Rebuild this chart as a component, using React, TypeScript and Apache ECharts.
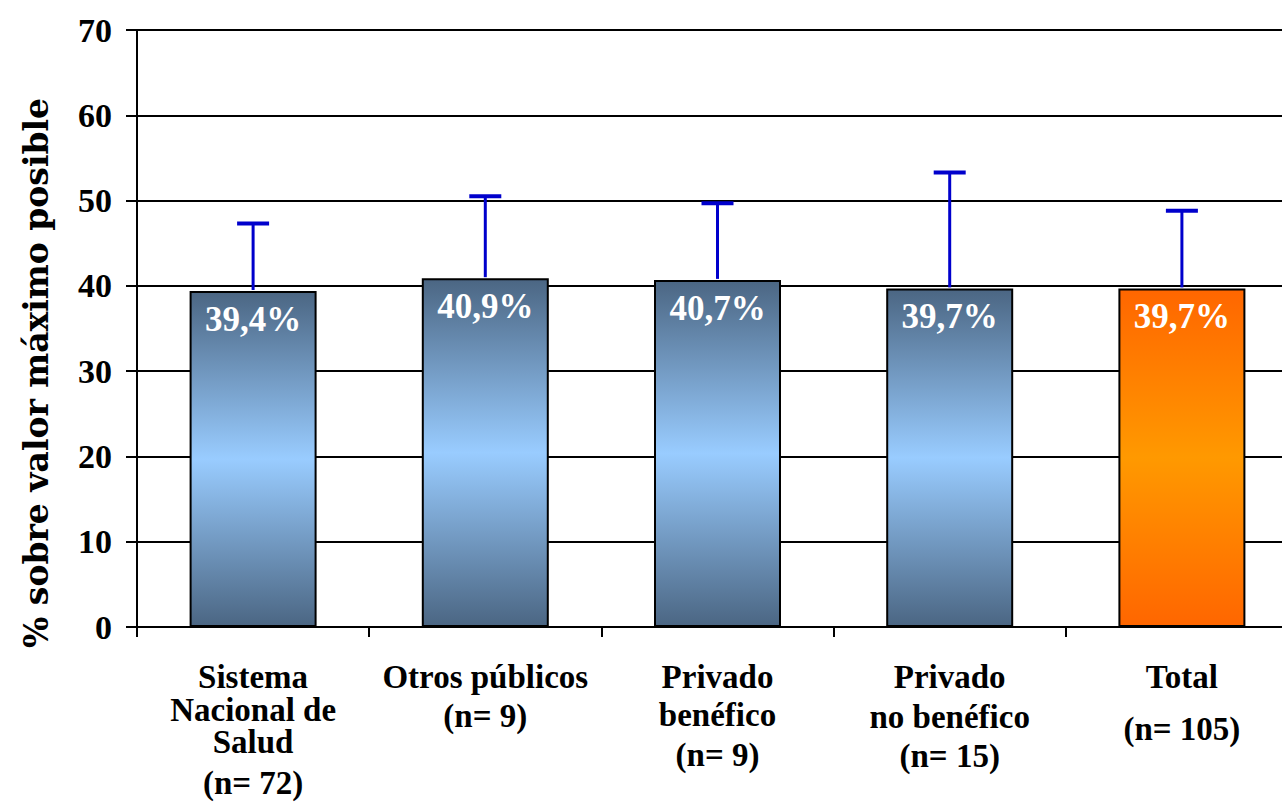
import React, { useEffect, useRef } from "react";
import * as echarts from "echarts";

const categories = ["Sistema\nNacional de\nSalud", "Otros públicos", "Privado\nbenéfico", "Privado\nno benéfico", "Total"];
const nValues = [72, 9, 9, 15, 105];
const means = [39.4, 40.9, 40.7, 39.7, 39.7];
const upper = [47.3, 50.5, 49.7, 53.3, 48.8];
const yTicks = [0, 10, 20, 30, 40, 50, 60, 70];
const yTitle = "% sobre valor máximo posible";

// per-category line heights for the axis labels (layout only)
const lineHeights = [
  [33, 33, 32, 50],
  [33, 46],
  [33, 43, 38],
  [33, 47, 32],
  [33, 71],
];

const SERIF = "Liberation Serif";

export default function App() {
  const ref = useRef<HTMLDivElement>(null);
  useEffect(() => {
    document.body.style.margin = "0";
    const chart = echarts.init(ref.current!, undefined, { renderer: "svg" });
    const blue = new echarts.graphic.LinearGradient(0, 0, 0, 1, [
      { offset: 0, color: "#4b6683" },
      { offset: 0.5, color: "#99ccff" },
      { offset: 1, color: "#4b6683" },
    ]);
    const orange = new echarts.graphic.LinearGradient(0, 0, 0, 1, [
      { offset: 0, color: "#ff6600" },
      { offset: 0.5, color: "#ff9900" },
      { offset: 1, color: "#ff6600" },
    ]);
    const rich: Record<string, any> = {};
    [32, 33, 38, 43, 46, 47, 50, 71].forEach((h) => {
      rich["h" + h] = { lineHeight: h, fontFamily: SERIF, fontWeight: "bold", fontSize: 33, color: "#000" };
    });
    chart.setOption({
      animation: false,
      grid: { left: 137, top: 30, bottom: 175, right: 0, containLabel: false, outerBoundsMode: "none" },
      graphic: [
        {
          type: "text",
          x: 36,
          y: 373,
          rotation: Math.PI / 2,
          style: {
            text: yTitle,
            textAlign: "center",
            textVerticalAlign: "middle",
            fontFamily: "DejaVu Serif",
            fontWeight: "bold",
            fontSize: 33,
            fill: "#000",
          },
        },
      ],
      xAxis: {
        type: "category",
        data: categories,
        axisLine: { lineStyle: { color: "#000", width: 2 } },
        axisTick: { show: true, length: 10, lineStyle: { color: "#000", width: 2 } },
        axisLabel: {
          interval: 0,
          margin: 33,
          formatter: (_v: string, idx: number) => {
            const lines = categories[idx].split("\n").concat([`(n= ${nValues[idx]})`]);
            return lines.map((l, i) => `{h${lineHeights[idx][i]}|${l}}`).join("\n");
          },
          rich,
        },
        splitLine: { show: false },
      },
      yAxis: {
        type: "value",
        min: yTicks[0],
        max: yTicks[yTicks.length - 1],
        interval: 10,
        axisLine: { show: true, lineStyle: { color: "#000", width: 2 } },
        axisTick: { show: true, length: 11, lineStyle: { color: "#000", width: 2 } },
        axisLabel: {
          margin: 25,
          fontFamily: SERIF,
          fontWeight: "bold",
          fontSize: 34,
          color: "#000",
        },
        splitLine: { show: true, lineStyle: { color: "#000", width: 2 } },
      },
      series: [
        {
          type: "bar",
          barWidth: 127,
          z: 2,
          data: means.map((v, i) => ({
            value: v,
            itemStyle: {
              color: i === means.length - 1 ? orange : blue,
              borderColor: "#000",
              borderWidth: 2,
            },
          })),
          label: {
            show: true,
            position: "insideTop",
            distance: 11,
            formatter: (p: any) => `${Number(p.value).toFixed(1).replace(".", ",")}%`,
            fontFamily: SERIF,
            fontWeight: "bold",
            fontSize: 35,
            color: "#fff",
          },
        },
        {
          type: "custom",
          z: 3,
          data: means.map((v, i) => [i, v, upper[i]]),
          encode: { x: 0, y: [1, 2] },
          renderItem: (_params: any, api: any) => {
            const base = api.coord([api.value(0), api.value(1)]);
            const top = api.coord([api.value(0), api.value(2)]);
            const cap = 16;
            return {
              type: "group",
              children: [
                {
                  type: "line",
                  shape: { x1: base[0], y1: base[1] - 1, x2: top[0], y2: top[1] },
                  style: { stroke: "#0000cc", lineWidth: 3 },
                },
                {
                  type: "line",
                  shape: { x1: top[0] - cap, y1: top[1], x2: top[0] + cap, y2: top[1] },
                  style: { stroke: "#0000cc", lineWidth: 4 },
                },
              ],
            };
          },
        },
      ],
    });
    return () => chart.dispose();
  }, []);
  return (
    <div style={{ width: 1282, height: 802, overflow: "hidden", position: "relative" }}>
      <div ref={ref} style={{ width: 1298, height: 802 }} />
    </div>
  );
}
